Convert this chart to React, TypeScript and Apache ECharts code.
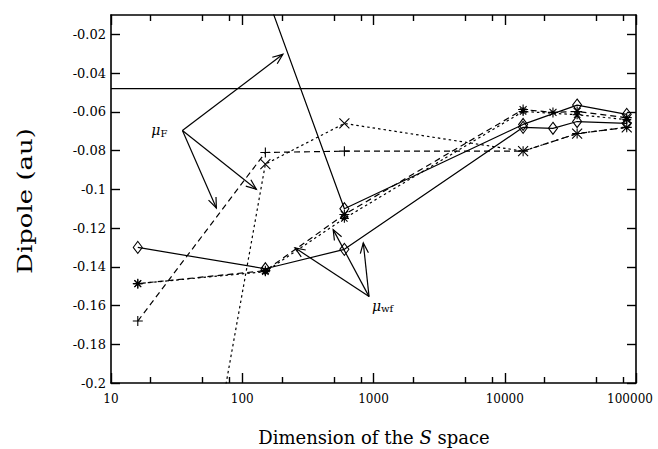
import React, { useEffect, useRef } from "react";
import * as echarts from "echarts";

// ---------- data ----------
const xMajorTicks = [10, 100, 1000, 10000, 100000];
const xMinorTicks = [20, 50, 80, 200, 500, 800, 2000, 5000, 8000, 20000, 50000, 80000];
const yTicks = [-0.2, -0.18, -0.16, -0.14, -0.12, -0.1, -0.08, -0.06, -0.04, -0.02];

// wave-function dipoles (mu_wf)
const wfSolidX = [16, 150, 600, 13800, 23300, 35600, 85000];
const wfSolidY = [-0.13, -0.141, -0.131, -0.068, -0.0685, -0.065, -0.066];
const wfDashX = [16, 150, 600, 13800, 23300, 35600, 85000];
const wfDashY = [-0.1487, -0.142, -0.113, -0.0588, -0.0603, -0.0598, -0.063];
const wfDotX = [16, 150, 600, 13800, 35600, 85000];
const wfDotY = [-0.1487, -0.1425, -0.115, -0.0598, -0.0615, -0.064];

// Fock dipoles (mu_F)
const fSolidX = [150, 600, 13800, 35600, 85000];
const fSolidY = [0.002, -0.11, -0.0665, -0.0565, -0.0613];
const fDotX = [16, 150, 600, 13800, 35600, 85000];
const fDotY = [-0.455, -0.087, -0.066, -0.0803, -0.0712, -0.068];
const fDashX = [16, 150, 600, 13800, 35600, 85000];
const fDashY = [-0.168, -0.081, -0.0803, -0.0803, -0.0712, -0.068];

// horizontal reference value
const refX = [10, 100000];
const refY = [-0.048, -0.048];

// annotation anchors (data coordinates)
const fLabelOrigin = [35, -0.0696];
const fArrowTips = [
  [204, -0.0303],
  [128, -0.1],
  [63.5, -0.1096],
];
const wfLabelOrigin = [925, -0.1554];
const wfArrowTips = [
  [252, -0.1302],
  [493, -0.1208],
  [836, -0.1277],
];

// ---------- styling ----------
const FONT = "DejaVu Serif";
const PLUS = "path://M5,0L5,10M0,5L10,5";
const CROSS = "path://M0,0L10,10M10,0L0,10";
const STAR = "path://M5,0L5,10M0,5L10,5M1.5,1.5L8.5,8.5M8.5,1.5L1.5,8.5";

const zip = (xs: number[], ys: number[]) => xs.map((x, i) => [x, ys[i]]);

function lineSeries(
  name: string,
  xs: number[],
  ys: number[],
  type: "solid" | "dashed" | "dotted",
  symbol: string,
  size: number | number[]
) {
  const dash =
    type === "solid" ? "solid" : type === "dashed" ? [6, 4] : [2.5, 3];
  return {
    name,
    type: "line",
    data: zip(xs, ys),
    symbol,
    symbolSize: size,
    showSymbol: true,
    showAllSymbol: true,
    clip: true,
    lineStyle: { color: "#000", width: 1.2, type: dash },
    itemStyle: {
      color: "rgba(0,0,0,0)",
      borderColor: "#000",
      borderWidth: 1.1,
    },
    emphasis: { disabled: true },
    z: 3,
  };
}

const logAxisBase = {
  type: "log",
  logBase: 10,
  min: 10,
  max: 100000,
  splitLine: { show: false },
  gridIndex: 0,
};

export default function App() {
  const ref = useRef<HTMLDivElement>(null);

  useEffect(() => {
    document.body.style.margin = "0";
    const chart = echarts.init(ref.current!, undefined, { renderer: "svg" });

    const tickStyle = { color: "#000", width: 1.4 };
    const option: any = {
      animation: false,
      backgroundColor: "#fff",
      grid: {
        left: 111,
        right: 22,
        top: 15,
        bottom: 66,
        containLabel: false,
        outerBoundsMode: "none",
      },
      xAxis: [
        {
          ...logAxisBase,
          position: "bottom",
          axisLine: { show: true, onZero: false, lineStyle: { color: "#000", width: 1.6 } },
          axisTick: { show: true, inside: true, length: 10, customValues: xMajorTicks, lineStyle: tickStyle },
          axisLabel: {
            show: true,
            customValues: xMajorTicks,
            formatter: (v: number) => {
              const s = String(Math.round(v));
              return Math.round(v) === 100000 ? `{m|${s}}` : s;
            },
            rich: {
              m: { fontFamily: FONT, fontSize: 12, color: "#000", padding: [0, 12, 0, 0] },
            },
            margin: 10,
            color: "#000",
            fontFamily: FONT,
            fontSize: 12,
          },
        },
        {
          ...logAxisBase,
          position: "bottom",
          axisLine: { show: false, onZero: false },
          axisTick: { show: true, inside: true, length: 6, customValues: xMinorTicks, lineStyle: tickStyle },
          axisLabel: { show: false },
        },
        {
          ...logAxisBase,
          position: "top",
          axisLine: { show: true, onZero: false, lineStyle: { color: "#000", width: 1.6 } },
          axisTick: { show: true, inside: true, length: 10, customValues: xMajorTicks, lineStyle: tickStyle },
          axisLabel: { show: false },
        },
        {
          ...logAxisBase,
          position: "top",
          axisLine: { show: false, onZero: false },
          axisTick: { show: true, inside: true, length: 6, customValues: xMinorTicks, lineStyle: tickStyle },
          axisLabel: { show: false },
        },
      ],
      yAxis: [
        {
          type: "value",
          min: -0.2,
          max: -0.01,
          position: "left",
          splitLine: { show: false },
          axisLine: { show: true, onZero: false, lineStyle: { color: "#000", width: 1.6 } },
          axisTick: { show: true, inside: true, length: 9, customValues: yTicks, lineStyle: tickStyle },
          axisLabel: {
            show: true,
            customValues: yTicks,
            formatter: (v: number) => String(parseFloat(v.toFixed(2))),
            margin: 5,
            color: "#000",
            fontFamily: FONT,
            fontSize: 13,
          },
        },
        {
          type: "value",
          min: -0.2,
          max: -0.01,
          position: "right",
          splitLine: { show: false },
          axisLine: { show: true, onZero: false, lineStyle: { color: "#000", width: 1.6 } },
          axisTick: { show: true, inside: true, length: 9, customValues: yTicks, lineStyle: tickStyle },
          axisLabel: { show: false },
        },
      ],
      series: [
        {
          name: "reference",
          type: "line",
          data: zip(refX, refY),
          symbol: "none",
          lineStyle: { color: "#000", width: 1.2 },
          emphasis: { disabled: true },
          z: 2,
        },
        lineSeries("wf solid", wfSolidX, wfSolidY, "solid", "diamond", [9, 12]),
        lineSeries("wf dashed", wfDashX, wfDashY, "dashed", STAR, 10),
        lineSeries("wf dotted", wfDotX, wfDotY, "dotted", STAR, 9),
        lineSeries("F solid", fSolidX, fSolidY, "solid", "diamond", [9, 12]),
        lineSeries("F dotted", fDotX, fDotY, "dotted", CROSS, 10),
        lineSeries("F dashed", fDashX, fDashY, "dashed", PLUS, 10),
      ],
    };
    chart.setOption(option);

    const toPx = (p: number[]) =>
      chart.convertToPixel({ seriesIndex: 1 }, p) as number[];

    const arrow = (from: number[], to: number[]) => {
      const a = Math.atan2(to[1] - from[1], to[0] - from[0]);
      const h = 11;
      const ang = 0.38;
      const p1 = [to[0] - h * Math.cos(a - ang), to[1] - h * Math.sin(a - ang)];
      const p2 = [to[0] - h * Math.cos(a + ang), to[1] - h * Math.sin(a + ang)];
      return [
        {
          type: "line",
          silent: true,
          shape: { x1: from[0], y1: from[1], x2: to[0], y2: to[1] },
          style: { stroke: "#000", lineWidth: 1.2 },
        },
        {
          type: "polyline",
          silent: true,
          shape: { points: [p1, to, p2] },
          style: { stroke: "#000", fill: "none", lineWidth: 1.2 },
        },
      ];
    };

    const fO = toPx(fLabelOrigin);
    const wO = toPx(wfLabelOrigin);
    const graphics: any[] = [];
    fArrowTips.forEach((t) => graphics.push(...arrow(fO, toPx(t))));
    wfArrowTips.forEach((t) => graphics.push(...arrow(wO, toPx(t))));

    graphics.push(
      {
        type: "text",
        silent: true,
        x: fO[0] - 22,
        y: fO[1],
        style: { text: "μ", font: `italic 14px "${FONT}"`, fill: "#000", align: "right", verticalAlign: "middle" },
      },
      {
        type: "text",
        silent: true,
        x: fO[0] - 22,
        y: fO[1] + 3,
        style: { text: "F", font: `10px "${FONT}"`, fill: "#000", align: "left", verticalAlign: "middle" },
      },
      {
        type: "text",
        silent: true,
        x: wO[0] + 3,
        y: wO[1] + 9,
        style: { text: "μ", font: `italic 14px "${FONT}"`, fill: "#000", align: "left", verticalAlign: "middle" },
      },
      {
        type: "text",
        silent: true,
        x: wO[0] + 12,
        y: wO[1] + 12,
        style: { text: "wf", font: `10px "${FONT}"`, fill: "#000", align: "left", verticalAlign: "middle" },
      },
      {
        type: "text",
        silent: true,
        x: 25,
        y: 201,
        rotation: Math.PI / 2,
        scaleX: 1.3,
        style: { text: "Dipole (au)", font: `20px "${FONT}"`, fill: "#000", align: "center", verticalAlign: "middle" },
      },
      {
        type: "text",
        silent: true,
        x: 374,
        y: 437,
        style: {
          text: "{a|Dimension of the }{b|S}{a| space}",
          rich: {
            a: { font: `18px "${FONT}"`, fill: "#000" },
            b: { font: `italic 18px "${FONT}"`, fill: "#000" },
          },
          align: "center",
          verticalAlign: "middle",
        },
      }
    );

    chart.setOption({ graphic: graphics });

    return () => chart.dispose();
  }, []);

  return <div ref={ref} style={{ width: 658, height: 449 }} />;
}
